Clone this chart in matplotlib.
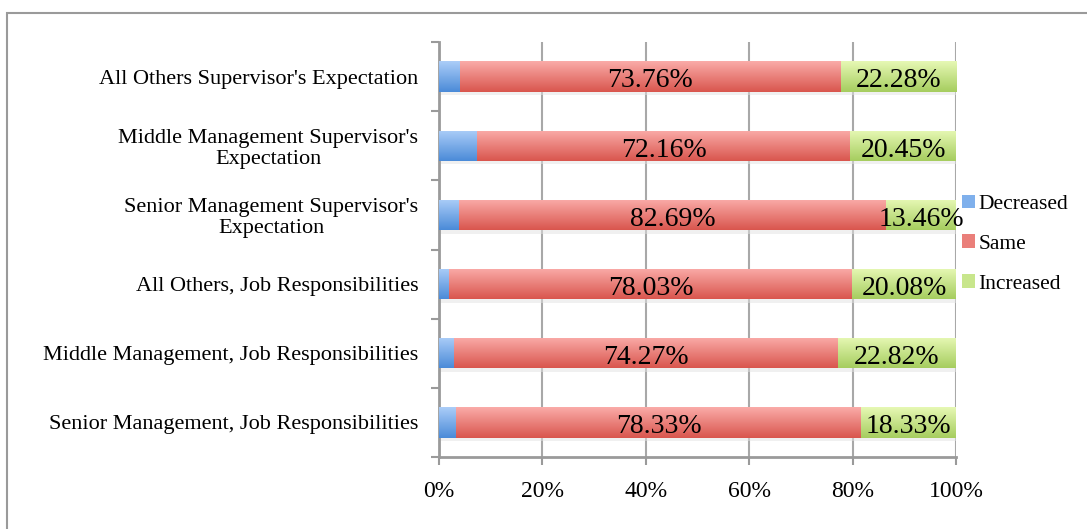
import numpy as np
import matplotlib.pyplot as plt
from matplotlib.colors import LinearSegmentedColormap
from matplotlib.patches import Rectangle
from matplotlib.ticker import FuncFormatter, MultipleLocator

plt.rcParams['font.family'] = ['Liberation Serif', 'DejaVu Serif']

# bottom to top, as the bars are stacked on the y axis
categories = [
    "Senior Management, Job Responsibilities",
    "Middle Management, Job Responsibilities",
    "All Others, Job Responsibilities",
    "Senior Management Supervisor's\nExpectation",
    "Middle Management Supervisor's\nExpectation",
    "All Others Supervisor's Expectation",
]
same = [78.33, 74.27, 78.03, 82.69, 72.16, 73.76]
increased = [18.33, 22.82, 20.08, 13.46, 20.45, 22.28]
decreased = [round(100 - s - i, 2) for s, i in zip(same, increased)]

series = ["Decreased", "Same", "Increased"]
# (top, bottom) of the vertical gradient for each series
gradients = {
    "Decreased": ("#abcdf8", "#4b8bd8"),
    "Same": ("#faaba8", "#d9564e"),
    "Increased": ("#e6f8b4", "#a6cd5f"),
}
swatch = {"Decreased": "#7fb0ec", "Same": "#ea7f7a", "Increased": "#c8e68c"}

fig = plt.figure(figsize=(10.87, 5.29), dpi=100)
ax = fig.add_axes([0.4039, 0.1361, 0.4756, 0.7845])

# outer chart frame
fig.patches.append(Rectangle((7 / 1087, -0.1), 1.2, 1 - 13 / 529 + 0.1,
                             transform=fig.transFigure, fill=False,
                             edgecolor="#9a9a9a", linewidth=1.5, zorder=0))

y = np.arange(len(categories))
bar_h = 0.44
grad = np.linspace(0, 1, 64).reshape(-1, 1)

left = np.zeros(len(categories))
values = {"Decreased": decreased, "Same": same, "Increased": increased}
for name in series:
    vals = np.array(values[name])
    top_c, bot_c = gradients[name]
    cmap = LinearSegmentedColormap.from_list(name, [top_c, bot_c])
    bars = ax.barh(y, vals, left=left, height=bar_h, color=bot_c,
                   label=name, zorder=3, linewidth=0)
    for rect in bars:
        x0, y0 = rect.get_x(), rect.get_y()
        w, h = rect.get_width(), rect.get_height()
        # soft drop shadow under each bar
        ax.add_patch(Rectangle((x0, y0 - 0.05), w, 0.05, color="#e2e2e2",
                               alpha=0.5, zorder=2, linewidth=0))
        im = ax.imshow(grad, extent=(x0, x0 + w, y0, y0 + h), cmap=cmap,
                       aspect="auto", origin="upper", zorder=3.5,
                       interpolation="bilinear")
        im.set_clip_path(rect)
    if name != "Decreased":
        for yi, l, v in zip(y, left, vals):
            ax.text(l + v / 2, yi - 0.02, f"{v:.2f}%", ha="center",
                    va="center_baseline", fontsize=20, color="black",
                    zorder=5)
    left = left + vals

ax.set_xlim(0, 100)
ax.set_ylim(-0.5, len(categories) - 0.5)
ax.xaxis.set_major_locator(MultipleLocator(20))
ax.xaxis.set_major_formatter(FuncFormatter(lambda v, p: f"{v:.0f}%"))
ax.set_yticks(y)
ax.set_yticklabels(categories, fontsize=16, ha="right", multialignment="center",
                   linespacing=1.1)
ax.tick_params(axis="y", length=0, pad=15)
ax.set_yticks(np.arange(-0.5, len(categories)), minor=True)
ax.tick_params(axis="y", which="minor", length=6, width=1.5, color="#9a9a9a")
ax.tick_params(axis="x", length=6, width=1.5, color="#9a9a9a",
               labelsize=17, pad=11)

ax.grid(axis="x", color="#a8a8a8", linewidth=1.5, zorder=0)
ax.set_axisbelow(True)
for side in ("top", "right"):
    ax.spines[side].set_visible(False)
for side in ("left", "bottom"):
    ax.spines[side].set_color("#9a9a9a")
    ax.spines[side].set_linewidth(2)

leg = ax.legend(loc="center left", bbox_to_anchor=(1.0, 0.513), frameon=False,
                fontsize=15.5, handlelength=0.6, handleheight=0.6,
                handletextpad=0.15, labelspacing=0.95, borderaxespad=0.0,
                borderpad=0.3)
for handle, name in zip(leg.legend_handles, series):
    handle.set_color(swatch[name])

fig.savefig("out.png", dpi=100)
